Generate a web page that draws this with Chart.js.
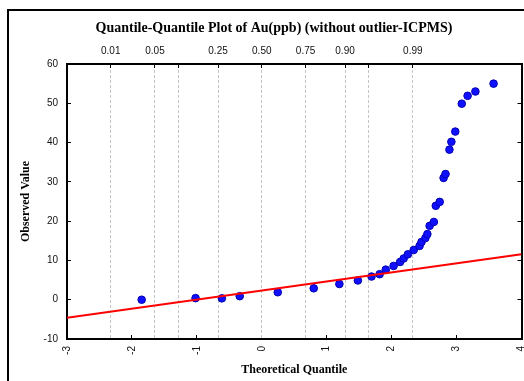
<!DOCTYPE html>
<html>
<head>
<meta charset="utf-8">
<script src="https://cdn.jsdelivr.net/npm/chart.js@4/dist/chart.umd.min.js"></script>
<style>
  html, body { margin: 0; padding: 0; background: #fff; }
  #wrap { width: 524px; height: 381px; position: relative; }
</style>
</head>
<body>
<div id="wrap"><canvas id="qq"></canvas></div>
<script>
// theoretical quantile (x) and observed Au ppb (y)
const theoQuantile = [-1.85, -1.02, -0.615, -0.34, 0.246, 0.80, 1.195, 1.48, 1.69, 1.815,
  1.91, 2.03, 2.13, 2.185, 2.25, 2.34, 2.43, 2.46, 2.52, 2.55, 2.585, 2.65, 2.68, 2.74,
  2.80, 2.83, 2.89, 2.92, 2.98, 3.08, 3.17, 3.29, 3.57];
const observed = [0, 0.4, 0.35, 0.9, 1.9, 2.9, 4.0, 4.9, 5.9, 6.5,
  7.65, 8.6, 9.6, 10.5, 11.55, 12.65, 13.7, 14.7, 15.7, 16.7, 18.8, 19.8, 23.9, 24.9,
  31.0, 32.0, 38.2, 40.2, 42.8, 49.9, 51.9, 53.0, 55.0];

// reference line end points
const lineX = [-3, 4];
const lineY = [-4.6, 11.6];

// top probability axis
const probZ = [-2.326, -1.645, -1.282, -0.674, 0, 0.674, 1.282, 1.645, 2.326];
const probLabels = ['0.01', '0.05', '', '0.25', '0.50', '0.75', '0.90', '', '0.99'];

const tickFont = { family: '"Liberation Sans", Arial, sans-serif', size: 10 };
const serifBold = { family: '"Liberation Serif", "Times New Roman", serif', size: 12, weight: 'bold' };

const framePlugin = {
  id: 'frame',
  beforeDraw(chart) {
    const c = chart.ctx;
    c.save();
    c.fillStyle = '#fff';
    c.fillRect(0, 0, chart.width, chart.height);
    c.strokeStyle = '#000';
    c.lineWidth = 2;
    c.beginPath();
    c.moveTo(8, chart.height);
    c.lineTo(8, 10);
    c.lineTo(chart.width, 10);
    c.stroke();
    c.restore();
  }
};

// keep plot box fixed, ignore label overhang padding
function noPad(s) {
  s.paddingLeft = 0;
  s.paddingRight = 0;
  s.paddingTop = 0;
  s.paddingBottom = 0;
}

new Chart(document.getElementById('qq'), {
  type: 'scatter',
  data: {
    datasets: [
      {
        data: lineX.map((x, i) => ({ x, y: lineY[i] })),
        showLine: true,
        borderColor: '#ff0000',
        borderWidth: 2,
        pointRadius: 0,
        order: 0
      },
      {
        data: theoQuantile.map((x, i) => ({ x, y: observed[i] })),
        backgroundColor: '#1010ff',
        borderColor: '#0000b4',
        borderWidth: 1,
        pointRadius: 3.8,
        order: 1
      }
    ]
  },
  options: {
    responsive: true,
    maintainAspectRatio: false,
    animation: false,
    layout: { autoPadding: false, padding: { left: 24, right: 0, top: 0, bottom: 0 } },
    plugins: {
      legend: { display: false },
      tooltip: { enabled: false },
      title: {
        display: true,
        text: 'Quantile-Quantile Plot of Au(ppb) (without outlier-ICPMS)',
        color: '#000',
        font: { family: serifBold.family, size: 14, weight: 'bold' },
        padding: { top: 19.6, bottom: 3.6 }
      }
    },
    scales: {
      x: {
        type: 'linear',
        position: 'bottom',
        min: -3, max: 4,
        afterFit: s => { s.height = 42; noPad(s); },
        border: { color: '#000', width: 2 },
        grid: { drawOnChartArea: false, color: '#000', tickLength: -4 },
        ticks: {
          stepSize: 1, autoSkip: false, minRotation: 90, maxRotation: 90,
          color: '#111', font: tickFont, padding: 11
        },
        title: {
          display: true, text: 'Theoretical Quantile', color: '#000',
          font: serifBold, padding: { top: 0, bottom: 4 }
        }
      },
      x2: {
        type: 'linear',
        position: 'top',
        min: -3, max: 4,
        afterFit: s => { s.height = 24; noPad(s); },
        afterBuildTicks: s => { s.ticks = probZ.map(v => ({ value: v })); },
        border: { color: '#000', width: 2, dash: [3, 2] },
        grid: {
          color: '#c4c4c4', lineWidth: 1,
          tickColor: '#000', tickBorderDash: [], tickLength: -4
        },
        ticks: {
          autoSkip: false, maxRotation: 0, color: '#111', font: tickFont, padding: 11,
          callback: (v, i) => probLabels[i]
        }
      },
      y: {
        type: 'linear',
        position: 'left',
        min: -10, max: 60,
        afterFit: s => { s.width = 43; noPad(s); },
        border: { color: '#000', width: 2 },
        grid: { drawOnChartArea: false, color: '#000', tickLength: -4 },
        ticks: { stepSize: 10, color: '#111', font: tickFont, padding: 13 },
        title: {
          display: true, text: 'Observed Value', color: '#000',
          font: serifBold, padding: { top: -5, bottom: 0 }
        }
      },
      y2: {
        type: 'linear',
        position: 'right',
        min: -10, max: 60,
        afterFit: s => { s.width = 2.5; noPad(s); },
        border: { color: '#000', width: 2 },
        grid: { drawOnChartArea: false, color: '#000', tickLength: -4 },
        ticks: { stepSize: 10, display: false }
      }
    }
  },
  plugins: [framePlugin]
});
</script>
</body>
</html>
